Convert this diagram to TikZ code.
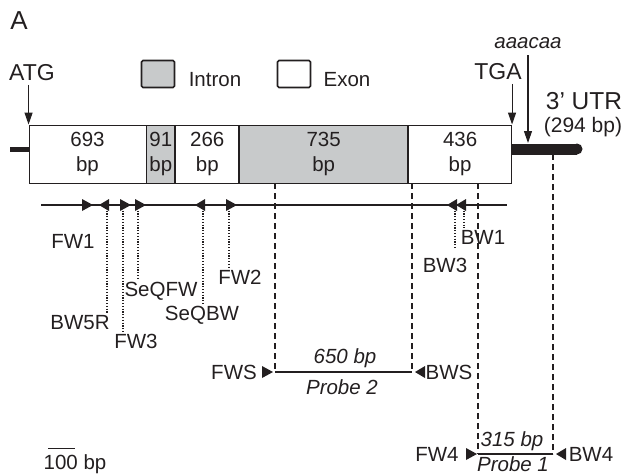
\documentclass[tikz,border=0pt]{standalone}
\usepackage{fontspec}
\setmainfont{Liberation Sans}
\usetikzlibrary{positioning,arrows.meta}
\definecolor{genGris}{HTML}{C8CACB}
\definecolor{genNegro}{HTML}{231F20}
\tikzset{
  exon/.style={draw=genNegro, fill=white, line width=0.9pt, inner sep=0pt,
    minimum height=58pt, align=center, text=genNegro,
    font=\fontsize{20.5}{25}\selectfont},
  intron/.style={exon, fill=genGris},
  legbox/.style={draw=genNegro, line width=1.6pt, rounded corners=1.5pt,
    minimum width=33pt, minimum height=27pt, inner sep=0pt},
  lbl/.style={text=genNegro, inner sep=1.5pt, font=\fontsize{20.5}{24}\selectfont},
  ilbl/.style={lbl, font=\fontsize{20.5}{24}\selectfont\itshape},
  site/.style={genNegro, line width=1.1pt, -{Triangle[length=12pt,width=8pt]}},
  primerdot/.style={genNegro, line width=1.3pt, dash pattern=on 1.2pt off 1.6pt},
  guide/.style={genNegro, line width=1.3pt, dash pattern=on 6pt off 4pt},
  fwmark/.pic={\fill[genNegro] (-3,-6) -- (8,0) -- (-3,6) -- cycle;},
  bwmark/.pic={\fill[genNegro] (2,-6) -- (-8,0) -- (2,6) -- cycle;},
}

\begin{document}
\begin{tikzpicture}[x=1pt,y=-1pt]
  \useasboundingbox (0,0) rectangle (625,475);
  \node[lbl, font=\fontsize{26}{30}\selectfont] (panel) at (19,21) {A};

  \node[exon, minimum width=117pt] (ex1) at (87.5,154) {693\\bp};
  \node[intron, minimum width=28pt, right=0pt of ex1] (in1) {91\\bp};
  \node[exon, minimum width=63pt, right=0pt of in1] (ex2) {266\\bp};
  \node[intron, minimum width=168pt, right=0pt of ex2] (in2) {735\\bp};
  \node[exon, minimum width=103pt, right=0pt of in2] (ex3) {436\\bp};

  \coordinate (stub) at (10,149);
  \coordinate (utrend) at (577,149);
  \coordinate (utrbot) at (553,154);
  \draw[genNegro, line width=5pt] (stub) -- (ex1.west |- stub);
  \draw[genNegro, line width=11pt] (ex3.east |- utrend) -- (utrend);
  \fill[genNegro] (utrend) circle (5.5);

  \node[lbl, font=\fontsize{23}{26}\selectfont] (atg) at (32,73) {ATG};
  \node[lbl, font=\fontsize{23}{26}\selectfont] (tga) at (498,72) {TGA};
  \node[ilbl] (polya) at (528,43) {aaacaa};
  \coordinate (polyasite) at (528,143);
  \draw[site, shorten <=2pt] (ex1.north west |- atg.south) -- (ex1.north west);
  \draw[site, shorten <=2pt] (ex3.north east |- tga.south) -- (ex3.north east);
  \draw[site, shorten <=5pt] (polya.south) -- (polyasite);
  \node[lbl, font=\fontsize{24.5}{28}\selectfont] (utr) at (584,101) {3’ UTR};
  \node[lbl, font=\fontsize{21}{24}\selectfont] (utrlen) at (583,127) {(294 bp)};

  \node[legbox, fill=genGris] (legint) at (158,74) {};
  \node[lbl] (legintlab) at (215,80) {Intron};
  \node[legbox, fill=white] (legex) at (294,74) {};
  \node[lbl] (legexlab) at (347,80) {Exon};

  \coordinate (pl) at (41,205);
  \coordinate (pr) at (507,205);
  \draw[genNegro, line width=1.4pt] (pl) -- (pr);
  \foreach \name/\x/\dir in {fw1/85/fw, bw5r/107/bw, fw3/123/fw, seqfw/138/fw,
      seqbw/203/bw, fw2/229/fw, bw3/455/bw, bw1/464/bw}{
    \coordinate (\name) at (\x,205);
    \pic at (\name) {\dir mark};
  }

  \node[lbl] (fw1lab) at (73,241) {FW1};
  \node[lbl] (bw5rlab) at (80,323) {BW5R};
  \node[lbl] (fw3lab) at (136,341) {FW3};
  \node[lbl] (seqfwlab) at (161,291) {SeQFW};
  \node[lbl] (seqbwlab) at (202,315) {SeQBW};
  \node[lbl] (fw2lab) at (240,277) {FW2};
  \node[lbl] (bw3lab) at (445,265) {BW3};
  \node[lbl] (bw1lab) at (483,237) {BW1};
  \foreach \name in {bw5r, fw3, seqfw, seqbw, fw2, bw1}
    \draw[primerdot] (\name) -- (\name |- \name lab.north);
  \draw[primerdot, shorten >=8pt] (bw3) -- (bw3 |- bw3lab.north);

  \coordinate (p2a) at (275,372);
  \coordinate (p2b) at (412,372);
  \coordinate (p1a) at (478,454);
  \coordinate (p1b) at (553,454);
  \draw[guide] (p2a |- in2.south) -- (p2a);
  \draw[guide] (p2b |- ex3.south) -- (p2b);
  \draw[guide] (p1a |- ex3.south) -- (p1a);
  \draw[guide] (utrbot) -- (p1b);
  \draw[genNegro, line width=1.6pt] (p2a) -- (p2b);
  \draw[genNegro, line width=1.6pt] (p1a) -- (p1b);

  \coordinate (fws) at (265,372);
  \coordinate (bws) at (423,372);
  \coordinate (fw4) at (469,454);
  \coordinate (bw4) at (564,454);
  \pic at (fws) {fwmark};
  \pic at (bws) {bwmark};
  \pic at (fw4) {fwmark};
  \pic at (bw4) {bwmark};
  \node[lbl] (fwslab) at (234,372) {FWS};
  \node[lbl] (bwslab) at (449,372) {BWS};
  \node[lbl] (fw4lab) at (437,454) {FW4};
  \node[lbl] (bw4lab) at (591,454) {BW4};
  \node[ilbl] (p2len) at (345,358) {650 bp};
  \node[ilbl] (p2name) at (342,387) {Probe 2};
  \node[ilbl] (p1len) at (512,441) {315 bp};
  \node[ilbl] (p1name) at (513,464) {Probe 1};

  \coordinate (sb1) at (48,448);
  \coordinate (sb2) at (75,448);
  \draw[genNegro, line width=1pt] (sb1) -- (sb2);
  \node[lbl] (sblab) at (75,464) {100 bp};
\end{tikzpicture}
\end{document}
